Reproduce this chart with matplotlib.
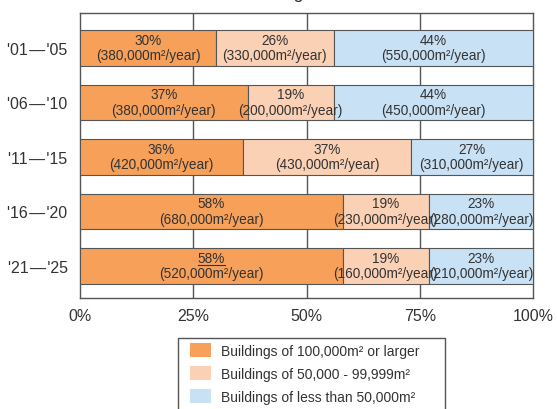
import matplotlib
matplotlib.use("Agg")
import matplotlib.pyplot as plt
from matplotlib.patches import Rectangle
import numpy as np

plt.rcParams['font.family'] = ['Liberation Sans', 'DejaVu Sans']

periods = ["'01\u200a\u2014\u200a'05", "'06\u200a\u2014\u200a'10", "'11\u200a\u2014\u200a'15",
           "'16\u200a\u2014\u200a'20", "'21\u200a\u2014\u200a'25"]
series_names = ["Buildings of 100,000m\u00b2 or larger",
                "Buildings of 50,000 - 99,999m\u00b2",
                "Buildings of less than 50,000m\u00b2"]
share_large = [30, 37, 36, 58, 58]
share_mid = [26, 19, 37, 19, 19]
share_small = [44, 44, 27, 23, 23]
area_large = ["380,000", "380,000", "420,000", "680,000", "520,000"]
area_mid = ["330,000", "200,000", "430,000", "230,000", "160,000"]
area_small = ["550,000", "450,000", "310,000", "280,000", "210,000"]
xticks = [0, 25, 50, 75, 100]
title = "Share of Building Size"

colors = ["#F6A05A", "#FBD1B5", "#C9E1F4"]
edge = "#555555"
text_c = "#333333"

W, H = 557, 410
fig = plt.figure(figsize=(W / 100, H / 100), dpi=100)
ax = fig.add_axes([80 / W, 1 - 299 / H, 453 / W, 285 / H])

y = np.arange(len(periods))
shares = [share_large, share_mid, share_small]
areas = [area_large, area_mid, area_small]
left = np.zeros(len(periods))
handles = []
for k in range(3):
    vals = np.array(shares[k], dtype=float)
    h = ax.barh(y, vals, left=left, height=0.65, color=colors[k],
                edgecolor=edge, linewidth=0.8, zorder=3, label=series_names[k])
    handles.append(h)
    for i in range(len(periods)):
        cx = left[i] + vals[i] / 2
        ax.text(cx, y[i] - 0.145, f"{shares[k][i]}%", ha='center', va='center',
                fontsize=9.8, color=text_c, zorder=5)
        ax.text(cx, y[i] + 0.135, f"({areas[k][i]}m\u00b2/year)", ha='center',
                va='center', fontsize=9.8, color=text_c, zorder=5)
    left = left + vals

ax.set_xlim(0, 100)
ax.set_ylim(4 + 0.59, -0.64)
ax.set_xticks(xticks)
ax.set_xticklabels([f"{t}%" for t in xticks], fontsize=11.5, color=text_c)
ax.set_yticks(y)
ax.set_yticklabels(periods, fontsize=11.5, color=text_c)
ax.tick_params(axis='both', length=0)
ax.tick_params(axis='x', pad=7)
ax.tick_params(axis='y', pad=9)
for x in xticks[1:-1]:
    ax.axvline(x, color=edge, linewidth=1.0, zorder=1)
for s in ax.spines.values():
    s.set_color(edge)
    s.set_linewidth(1.0)

# underline the latest period's leading share
fig.canvas.draw()
underline_txt = [t for t in ax.texts if t.get_text() == f"{share_large[-1]}%"][-1]
bb = underline_txt.get_window_extent()
inv = fig.transFigure.inverted()
(x0, y0), (x1, _) = inv.transform([(bb.x0, bb.y0), (bb.x1, bb.y0)])
fig.add_artist(plt.Line2D([x0, x1], [y0 + 0.001, y0 + 0.001], color=text_c,
                          linewidth=0.8, transform=fig.transFigure))

# title sits above the top edge; place it so the "g" falls near x=297 px
renderer = fig.canvas.get_renderer()
probe = fig.text(0, 0, title[:title.index("g")], fontsize=13)
pre_w = probe.get_window_extent(renderer).width
probe.remove()
fig.text((297 - pre_w - 3) / W, 1 + 2 / H, title, ha='left',
         va='baseline', fontsize=13, color=text_c)

# legend box
fig.add_artist(Rectangle((178 / W, -0.05), (445 - 178) / W, 0.05 + 1 - 339 / H,
                         transform=fig.transFigure, facecolor='white',
                         edgecolor=edge, linewidth=1.0, zorder=2))
leg = fig.legend(handles=handles, labels=series_names, loc='upper left',
                 bbox_to_anchor=(190 / W, 1 - 344 / H), fontsize=10, frameon=False,
                 handlelength=1.5, handleheight=1.22, labelspacing=0.58,
                 borderpad=0, handletextpad=0.72, borderaxespad=0)
leg.set_zorder(3)
for h in leg.legend_handles:
    h.set_edgecolor('none')
for t in leg.get_texts():
    t.set_color(text_c)

fig.savefig("out.png", dpi=100)
